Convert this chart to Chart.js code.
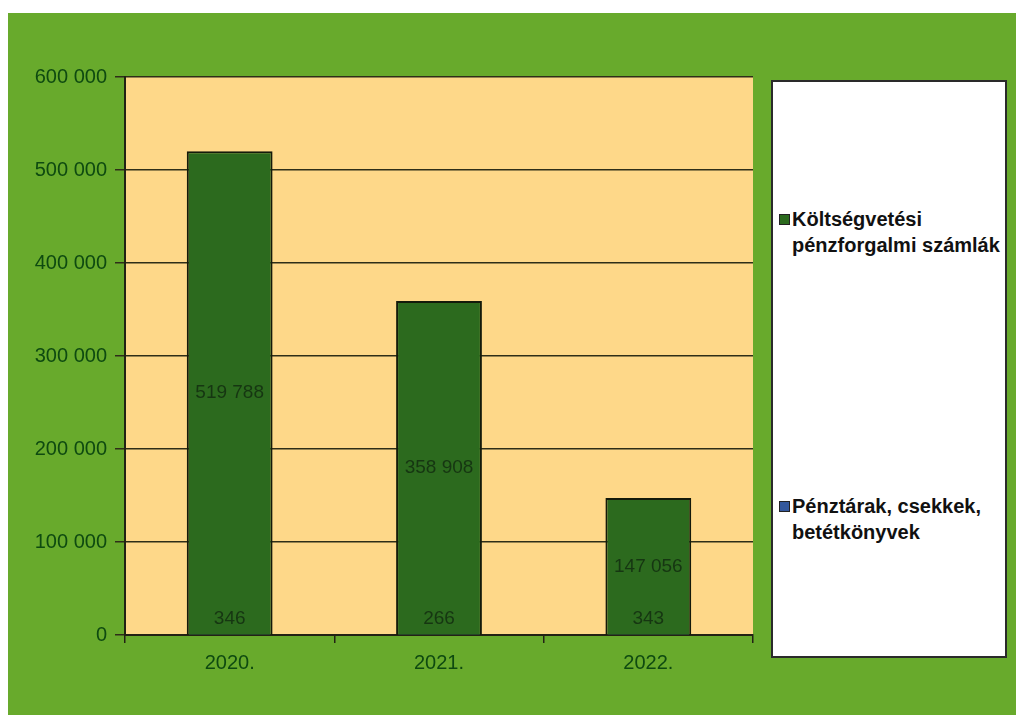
<!DOCTYPE html>
<html>
<head>
<meta charset="utf-8">
<script src="https://cdn.jsdelivr.net/npm/chart.js@4"></script>
<style>
  html, body { margin: 0; padding: 0; background: #ffffff; width: 1016px; height: 715px; overflow: hidden; }
  #frame { position: absolute; left: 8px; top: 13px; width: 1008px; height: 702px; background: #68aa2c; }
  #wrap { position: absolute; left: 0; top: 0; width: 1008px; height: 702px; }
  #legend { position: absolute; left: 763px; top: 67px; width: 232px; height: 574px; background: #ffffff; border: 2px solid #2a2a2a; font-family: "Liberation Sans", Arial, sans-serif; font-weight: bold; font-size: 20px; line-height: 26px; color: #111; }
  .item { position: absolute; left: 6px; width: 224px; }
  .box { position: absolute; left: 0; top: 8px; width: 9px; height: 9px; border: 1px solid #222; }
  .txt { position: absolute; left: 13px; top: 0; width: 215px; }
</style>
</head>
<body>
<div id="frame">
  <div id="wrap"><canvas id="c" width="1008" height="702"></canvas></div>
  <div id="legend"></div>
</div>
<script>
const categories = ["2020.", "2021.", "2022."];
const szamlak = [519788, 358908, 147056];
const penztarak = [346, 266, 343];
const seriesNames = ["Költségvetési pénzforgalmi számlák", "Pénztárak, csekkek, betétkönyvek"];
const seriesColors = ["#2c6a1e", "#34589c"];
const yTicks = [0, 100000, 200000, 300000, 400000, 500000, 600000];

function fmt(v) { return String(v).replace(/\B(?=(\d{3})+(?!\d))/g, " "); }

const plotBg = {
  id: "plotBg",
  beforeDraw(chart) {
    const a = chart.chartArea, ctx = chart.ctx;
    ctx.save();
    ctx.fillStyle = "#fed889";
    ctx.fillRect(a.left, a.top, a.right - a.left, a.bottom - a.top);
    ctx.restore();
  }
};

const labelsPlugin = {
  id: "valLabels",
  afterDatasetsDraw(chart) {
    const ctx = chart.ctx;
    ctx.save();
    ctx.font = "19px 'Liberation Sans', Arial, sans-serif";
    ctx.fillStyle = "#163612";
    ctx.textAlign = "center";
    ctx.textBaseline = "middle";
    chart.data.datasets.forEach((ds, i) => {
      const meta = chart.getDatasetMeta(i);
      meta.data.forEach((el, j) => {
        const p = el.getProps(["x", "y", "base"], true);
        let y = (p.y + p.base) / 2;
        if (y > p.base - 15) y = p.base - 15;
        ctx.fillText(fmt(ds.data[j]), p.x, y);
      });
    });
    ctx.restore();
  }
};

const chart = new Chart(document.getElementById("c"), {
  type: "bar",
  data: {
    labels: categories,
    datasets: [
      { label: seriesNames[1], data: penztarak, backgroundColor: seriesColors[1], borderColor: "#141a0a", borderWidth: 2 },
      { label: seriesNames[0], data: szamlak, backgroundColor: seriesColors[0], borderColor: "#141a0a", borderWidth: 2 }
    ]
  },
  options: {
    responsive: false,
    animation: false,
    devicePixelRatio: 1,
    layout: { padding: { left: 0, top: 64, right: 263, bottom: 0 } },
    datasets: { bar: { categoryPercentage: 1.0, barPercentage: 0.41 } },
    plugins: { legend: { display: false }, tooltip: { enabled: false } },
    scales: {
      x: {
        stacked: true,
        offset: true,
        grid: { display: true, drawOnChartArea: false, drawTicks: true, tickLength: 8, color: "#222214", lineWidth: 1.5, offset: true },
        border: { display: true, color: "#222214", width: 2 },
        ticks: { color: "#0e4a10", font: { family: "'Liberation Sans', Arial, sans-serif", size: 20 }, padding: 8 },
        afterFit(s) { s.height = 80; }
      },
      y: {
        stacked: true,
        min: 0, max: 600000,
        afterBuildTicks(s) { s.ticks = yTicks.map(v => ({ value: v })); },
        grid: { color: "#2e2e18", lineWidth: 1.5, drawTicks: true, tickLength: 10 },
        border: { display: true, color: "#222214", width: 2 },
        ticks: { color: "#0e4a10", font: { family: "'Liberation Sans', Arial, sans-serif", size: 20 }, padding: 8, callback: v => fmt(v) },
        afterFit(s) { s.width = 117; }
      }
    }
  },
  plugins: [plotBg, labelsPlugin]
});

const legend = document.getElementById("legend");
const legendTops = [124, 411];
[1, 0].forEach((di, k) => {
  const ds = chart.data.datasets[di];
  const item = document.createElement("div");
  item.className = "item";
  item.style.top = legendTops[k] + "px";
  const box = document.createElement("div");
  box.className = "box";
  box.style.background = ds.backgroundColor;
  const txt = document.createElement("div");
  txt.className = "txt";
  txt.textContent = ds.label;
  item.appendChild(box); item.appendChild(txt);
  legend.appendChild(item);
});
</script>
</body>
</html>
